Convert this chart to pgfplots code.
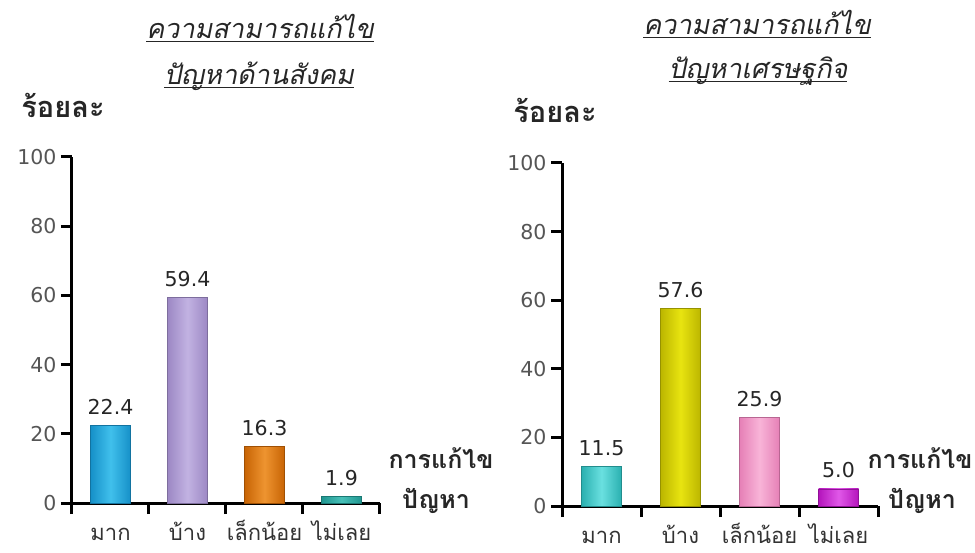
\documentclass[border=0pt]{standalone}
\usepackage{fontspec}
\setmainfont{DejaVu Sans}
\newfontfamily\thai[Script=Thai]{Loma}
\newfontfamily\thaiit[Script=Thai,FakeSlant=0.2]{Loma}
\usepackage{pgfplots}
\pgfplotsset{compat=1.18}
\newcommand\ul[1]{\setbox0\hbox{#1}\leavevmode\rlap{\rule[-3.5pt]{\wd0}{1.7pt}}\box0}
\definecolor{ca}{HTML}{1690C8}\definecolor{cal}{HTML}{40C0EC}
\definecolor{cb}{HTML}{9C88C4}\definecolor{cbl}{HTML}{C2B2E2}
\definecolor{cc}{HTML}{C86404}\definecolor{ccl}{HTML}{EE9430}
\definecolor{cd}{HTML}{209690}\definecolor{cdl}{HTML}{48C0B8}
\definecolor{da}{HTML}{2AB0B0}\definecolor{dal}{HTML}{6AE0E0}
\definecolor{db}{HTML}{BCB600}\definecolor{dbl}{HTML}{E8E410}
\definecolor{dc}{HTML}{E680B6}\definecolor{dcl}{HTML}{F8B4D8}
\definecolor{dd}{HTML}{B414BC}\definecolor{ddl}{HTML}{E058E8}
\definecolor{tickgray}{HTML}{555555}
\definecolor{valgray}{HTML}{262626}
\pgfplotsset{
  /pgf/number format/assume math mode=true,
  mybars/.style={
    scale only axis, width=#1,
    xmin=-0.5, xmax=3.5, ymin=0, ymax=100,
    axis lines*=left,
    axis line style={black, line width=3pt},
    every outer x axis line/.append style={-},
    every outer y axis line/.append style={-},
    ytick={0,20,...,100},
    xtick={-0.5,0.5,1.5,2.5,3.5},
    xticklabels={},
    extra x ticks={0,1,2,3},
    extra x tick labels={มาก,บ้าง,เล็กน้อย,ไม่เลย},
    extra x tick style={major tick length=0pt, tick style={draw=none},
      tick label style={font=\thai\fontsize{22}{24}\selectfont, text=black!80, anchor=base, yshift=-37pt}},
    y tick label style={font=\fontsize{20.5}{22}\selectfont, text=tickgray, xshift=-1pt},
    tick style={black, line width=3pt},
    major tick length=11pt,
    tick align=outside,
    clip=false,
  },
  onebar/.style n args={2}{
    ybar, bar width=40pt, bar shift=0pt,
    draw=#1!80!black, line width=0.6pt,
    left color=#1, right color=#1, middle color=#2,
    nodes near coords={\pgfmathprintnumber[fixed,fixed zerofill,precision=1]{\pgfplotspointmeta}},
    every node near coord/.append style={font=\fontsize{20.5}{22}\selectfont, text=valgray, yshift=7pt},
  },
}
\begin{document}
\begin{tikzpicture}
\useasboundingbox (0,0) rectangle (975pt,552pt);
% left panel
\begin{axis}[mybars=308pt, height=346pt, at={(72pt,49pt)}, anchor=south west]
\addplot[onebar={ca}{cal}] coordinates {(0,22.4)};
\addplot[onebar={cb}{cbl}] coordinates {(1,59.4)};
\addplot[onebar={cc}{ccl}] coordinates {(2,16.3)};
\addplot[onebar={cd}{cdl}] coordinates {(3,1.9)};
\end{axis}
% right panel
\begin{axis}[mybars=316pt, height=343pt, at={(562pt,46pt)}, anchor=south west]
\addplot[onebar={da}{dal}] coordinates {(0,11.5)};
\addplot[onebar={db}{dbl}] coordinates {(1,57.6)};
\addplot[onebar={dc}{dcl}] coordinates {(2,25.9)};
\addplot[onebar={dd}{ddl}] coordinates {(3,5.0)};
\end{axis}
% titles
\node[anchor=base, text=black!85] at (260pt,513pt) {\thaiit\fontsize{27}{30}\selectfont\ul{ความสามารถแก้ไข}};
\node[anchor=base, text=black!85] at (259pt,467pt) {\thaiit\fontsize{27}{30}\selectfont\ul{ปัญหาด้านสังคม}};
\node[anchor=base, text=black!85] at (757pt,517pt) {\thaiit\fontsize{27}{30}\selectfont\ul{ความสามารถแก้ไข}};
\node[anchor=base, text=black!85] at (758pt,473pt) {\thaiit\fontsize{27}{30}\selectfont\ul{ปัญหาเศรษฐกิจ}};
% y labels
\node[anchor=base, text=black!85] at (63pt,434pt) {\thai\bfseries\fontsize{29}{31}\selectfont ร้อยละ};
\node[anchor=base, text=black!85] at (555pt,429pt) {\thai\bfseries\fontsize{29}{31}\selectfont ร้อยละ};
% x labels
\node[anchor=base, text=black!85] at (441pt,84pt) {\thai\bfseries\fontsize{25}{27}\selectfont การแก้ไข};
\node[anchor=base, text=black!85] at (436pt,44pt) {\thai\bfseries\fontsize{25}{27}\selectfont ปัญหา};
\node[anchor=base, text=black!85] at (920pt,84pt) {\thai\bfseries\fontsize{25}{27}\selectfont การแก้ไข};
\node[anchor=base, text=black!85] at (922pt,44pt) {\thai\bfseries\fontsize{25}{27}\selectfont ปัญหา};
\end{tikzpicture}
\end{document}
